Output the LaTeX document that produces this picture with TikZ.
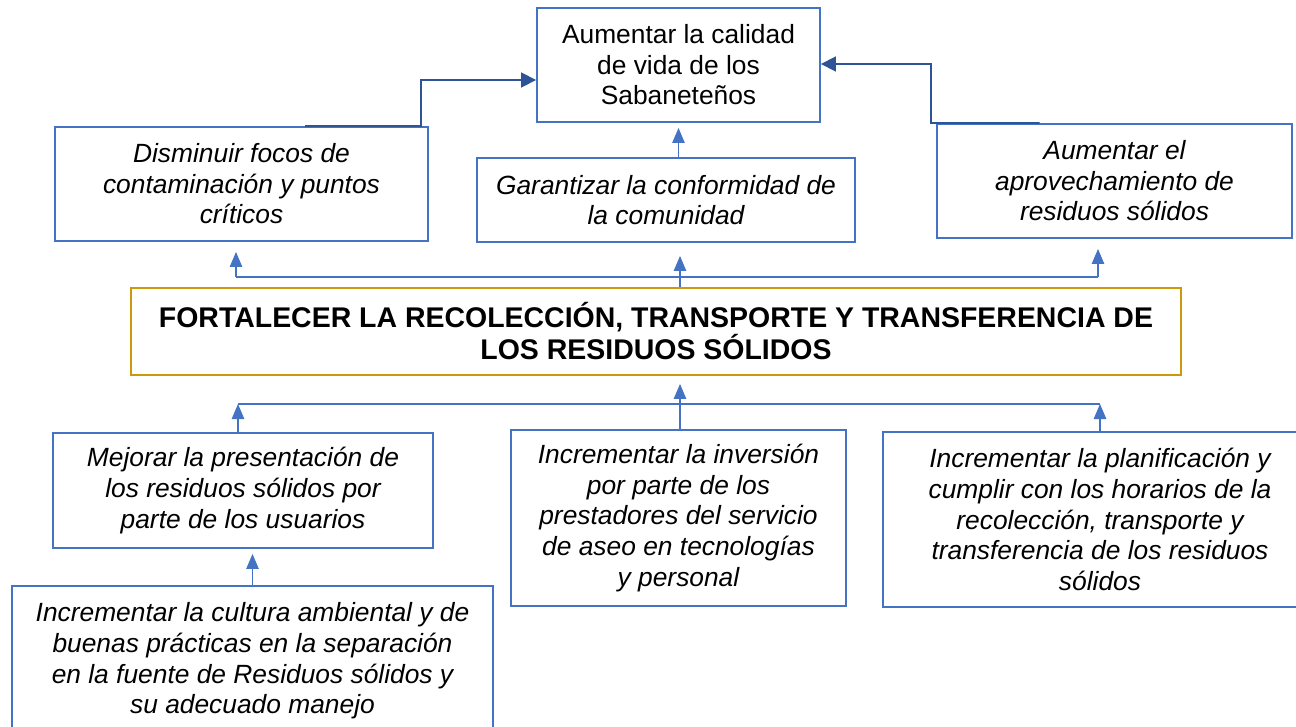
\documentclass[tikz,border=0pt]{standalone}
\usepackage{fontspec}
\setmainfont{Liberation Sans}
\usepackage{xcolor}
\usepackage{tikz}
\usetikzlibrary{arrows.meta,positioning,calc}
\definecolor{boxline}{rgb}{0.27,0.45,0.77}
\definecolor{arrdark}{rgb}{0.18,0.33,0.59}
\definecolor{coregold}{rgb}{0.80,0.60,0.05}

\begin{document}
\begin{tikzpicture}[x=0.02cm,y=-0.02cm,font=\fontsize{15}{17.4}\selectfont,
   b/.style={draw=boxline,line width=1.1pt,align=center,inner sep=2pt},
   it/.style={b,font=\fontsize{15}{17.4}\selectfont\itshape},
   ln/.style={draw=boxline,line width=0.6pt},
   up/.style={ln,-{Triangle[length=3mm,width=2.5mm]}},
   dk/.style={draw=arrdark,line width=1pt,-{Triangle[length=3mm,width=3mm]}}]
  \useasboundingbox (0,0) rectangle (1296,727);
  \clip (0,0) rectangle (1296,727);
  % fines
  \node[b,minimum width=5.66cm,minimum height=2.28cm] (goal) at (678.5,65)
     {Aumentar la calidad\\de vida de los\\Sabaneteños};
  \node[it,minimum width=7.46cm,minimum height=2.28cm] (efA) at (241.5,184)
     {Disminuir focos de\\contaminación y puntos\\críticos};
  \node[it,minimum width=7.56cm,minimum height=1.68cm] (efB) at (666,200)
     {Garantizar la conformidad de\\la comunidad};
  \node[it,minimum width=7.1cm,minimum height=2.28cm] (efC) at (1114.5,181)
     {Aumentar el\\aprovechamiento de\\residuos sólidos};
  % objetivo central
  \node[b,draw=coregold,font=\fontsize{16.2}{18.2}\selectfont\bfseries,
     minimum width=21cm,minimum height=1.74cm] (core) at (656,331.5)
     {FORTALECER LA RECOLECCIÓN, TRANSPORTE Y TRANSFERENCIA DE\\LOS RESIDUOS SÓLIDOS};
  % medios
  \node[it,minimum width=7.6cm,minimum height=2.3cm] (caA) at (243,490.5)
     {Mejorar la presentación de\\los residuos sólidos por\\parte de los usuarios};
  \node[it,minimum width=6.7cm,minimum height=3.52cm] (caB) at (678.5,518)
     {Incrementar la inversión\\por parte de los\\prestadores del servicio\\de aseo en tecnologías\\y personal};
  \node[it,minimum width=8.7cm,minimum height=3.5cm] (caC) at (1100,519.5)
     {Incrementar la planificación y\\cumplir con los horarios de la\\recolección, transporte y\\transferencia de los residuos\\sólidos};
  \node[it,minimum width=9.62cm,minimum height=3.0cm] (sub) at (252.5,661)
     {Incrementar la cultura ambiental y de\\buenas prácticas en la separación\\en la fuente de Residuos sólidos y\\su adecuado manejo};
  % conectores
  \coordinate (hubT) at (680,277);
  \coordinate (tL) at (236,277);
  \coordinate (tR) at (1098,277);
  \coordinate (hubB) at (680,404);
  \coordinate (bL) at (238,404);
  \coordinate (bR) at (1100,404);
  \coordinate (kA) at (421,80);
  \coordinate (kC) at (931,64);
  \draw[ln] (tL) -- (tR);
  \draw[up,shorten >=2mm] (tL) -- (tL |- efA.south);
  \draw[up,shorten >=2.6mm] (core.north -| hubT) -- (hubT |- efB.south);
  \draw[up,shorten >=2mm] (tR) -- (tR |- efC.south);
  \draw[ln] (bL) -- (bR);
  \draw[up] (caA.north -| bL) -- (bL);
  \draw[up] (caC.north -| bR) -- (bR);
  \draw[up,shorten >=1.6mm] (caB.north -| hubB) -- (hubB |- core.south);
  \draw[up,shorten >=1mm] (sub.north) -- (sub.north |- caA.south);
  \draw[up,shorten >=1mm] (efB.north -| goal.south) -- (goal.south);
  \draw[dk] ($(efA.north west)!0.67!(efA.north east)$) -- (kA |- efA.north)
     -- (kA) -- (kA -| goal.west);
  \draw[dk] ($(efC.north west)!0.29!(efC.north east)$) -- (kC |- efC.north)
     -- (kC) -- (kC -| goal.east);
\end{tikzpicture}
\end{document}
